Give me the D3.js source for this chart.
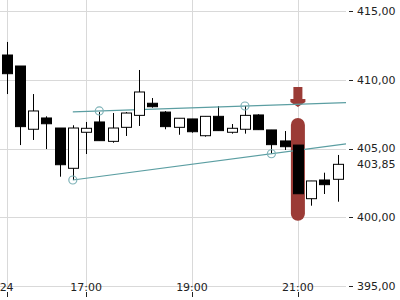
<!DOCTYPE html>
<html>
<head>
<meta charset="utf-8">
<script src="https://cdn.jsdelivr.net/npm/d3@7"></script>
<style>
  html, body { margin: 0; padding: 0; background: #fff; }
  svg { display: block; font-family: "DejaVu Sans", sans-serif; }
</style>
</head>
<body>
<svg id="chart" width="400" height="300"></svg>
<script>
// 15-minute candles, day 24
var times  = ["15:30","15:45","16:00","16:15","16:30","16:45","17:00","17:15","17:30","17:45",
              "18:00","18:15","18:30","18:45","19:00","19:15","19:30","19:45","20:00","20:15",
              "20:30","20:45","21:00","21:15","21:30","21:45"];
var opens  = [411.80,411.00,406.40,407.22,406.49,403.56,406.18,406.93,405.52,406.54,
              407.41,408.29,407.65,406.54,407.15,405.93,407.34,406.18,406.40,407.44,
              406.35,405.55,405.25,401.35,402.71,402.76];
var highs  = [412.75,411.00,408.96,407.34,406.49,406.69,406.93,407.65,407.58,407.65,
              410.71,408.67,407.72,407.20,407.15,407.34,408.09,406.78,408.09,407.49,
              406.35,406.27,407.00,402.64,403.24,404.53];
var lows   = [408.96,405.25,405.62,404.96,402.95,402.71,404.60,405.57,405.42,405.91,
              406.64,407.97,406.40,406.00,406.15,405.86,406.30,406.08,406.08,406.37,
              404.62,404.89,400.00,400.84,401.69,401.13];
var closes = [410.44,406.59,407.73,406.80,403.82,406.49,406.47,405.57,406.49,407.58,
              409.11,408.04,406.59,407.20,406.22,407.34,406.30,406.47,407.41,406.37,
              405.28,405.13,401.71,402.64,402.37,403.85];

var yTicks = [395, 400, 405, 410, 415];
var xTicks = ["15:30", "17:00", "19:00", "21:00"];
var xTickLabels = ["24", "17:00", "19:00", "21:00"];

// trend lines: two touch points each, drawn from a start time to the right edge
var upperTrend = [["17:15", 407.73], ["20:00", 408.09]];
var lowerTrend = [["16:45", 402.71], ["20:30", 404.62]];
var trendStart = "16:45";
var highlighted = "21:00";
var lastClose = 403.85;

var parse = d3.timeParse("%H:%M");
var parseS = d3.timeParse("%H:%M:%S");
var fmt = d3.format(".2f");
function price(v) { return fmt(v).replace(".", ","); }

var svg = d3.select("#chart");
var W = 346;
var x = d3.scaleTime().domain([parseS("15:22:30"), parseS("21:54:30")]).range([0, W]);
var y = d3.scaleLinear().domain([395, 415]).range([286, 11]);

var candles = times.map(function (t, i) {
  return { t: parse(t), o: opens[i], h: highs[i], l: lows[i], c: closes[i] };
});

// grid
svg.append("g").selectAll("line").data(yTicks).join("line")
  .attr("x1", 0).attr("x2", W)
  .attr("y1", function (d) { return Math.round(y(d)) + 0.5; })
  .attr("y2", function (d) { return Math.round(y(d)) + 0.5; })
  .attr("stroke", "#d9d9d9");
svg.append("g").selectAll("line").data(xTicks).join("line")
  .attr("x1", function (d) { return Math.round(x(parse(d))) + 0.5; })
  .attr("x2", function (d) { return Math.round(x(parse(d))) + 0.5; })
  .attr("y1", 0).attr("y2", 286)
  .attr("stroke", "#d9d9d9");

// right axis
var ax = svg.append("g");
ax.selectAll("line").data(yTicks).join("line")
  .attr("x1", 349).attr("x2", 353)
  .attr("y1", function (d) { return Math.round(y(d)) + 0.5; })
  .attr("y2", function (d) { return Math.round(y(d)) + 0.5; })
  .attr("stroke", "#222");
ax.selectAll("text").data(yTicks).join("text")
  .attr("x", 357).attr("y", function (d) { return y(d); })
  .attr("dy", "0.35em").attr("font-size", 11).attr("fill", "#222")
  .text(price);
svg.append("text").attr("x", 357).attr("y", y(lastClose)).attr("dy", "0.35em")
  .attr("font-size", 11).attr("fill", "#222").text(price(lastClose));

// bottom axis
var bx = svg.append("g");
bx.selectAll("line").data(xTicks).join("line")
  .attr("x1", function (d) { return Math.round(x(parse(d))) + 0.5; })
  .attr("x2", function (d) { return Math.round(x(parse(d))) + 0.5; })
  .attr("y1", 292).attr("y2", 297).attr("stroke", "#222");
bx.selectAll("text").data(xTicks).join("text")
  .attr("x", function (d) { return x(parse(d)); }).attr("y", 291)
  .attr("text-anchor", "middle").attr("font-size", 11).attr("fill", "#222")
  .text(function (d, i) { return xTickLabels[i]; });

// candle wicks
svg.append("g").selectAll("line").data(candles).join("line")
  .attr("x1", function (d) { return Math.round(x(d.t)) + 0.5; })
  .attr("x2", function (d) { return Math.round(x(d.t)) + 0.5; })
  .attr("y1", function (d) { return y(d.h); })
  .attr("y2", function (d) { return y(d.l); })
  .attr("stroke", "#000");

// highlight + arrow on the marked candle
var hc = candles[times.indexOf(highlighted)];
var hx = x(hc.t);
var hTop = y(hc.h) - 3;
svg.append("rect")
  .attr("x", hx - 7).attr("width", 14)
  .attr("y", hTop).attr("height", y(hc.l) + 3.5 - hTop)
  .attr("rx", 7).attr("fill", "#9b3b36");
var tip = hTop - 11;
svg.append("path")
  .attr("d", "M" + (hx - 4.5) + "," + (tip - 20) + "H" + (hx + 4.5) + "V" + (tip - 8) +
       "H" + (hx + 7.5) + "V" + (tip - 5) + "L" + hx + "," + tip + "L" + (hx - 7.5) + "," + (tip - 5) +
       "V" + (tip - 8) + "H" + (hx - 4.5) + "Z")
  .attr("fill", "#9b3b36");

// trend lines
function trendLine(pts) {
  var t0 = parse(pts[0][0]).getTime(), t1 = parse(pts[1][0]).getTime();
  var slope = (pts[1][1] - pts[0][1]) / (t1 - t0);
  var ts = parse(trendStart).getTime(), te = x.domain()[1].getTime();
  return [[ts, pts[0][1] + slope * (ts - t0)], [te, pts[0][1] + slope * (te - t0)]];
}
var line = d3.line().x(function (d) { return x(new Date(d[0])); }).y(function (d) { return y(d[1]); });
[upperTrend, lowerTrend].forEach(function (pts) {
  svg.append("path").attr("d", line(trendLine(pts)))
    .attr("fill", "none").attr("stroke", "#5b9ea2").attr("stroke-width", 1.2);
});

// candle bodies
svg.append("g").selectAll("rect").data(candles).join("rect")
  .attr("x", function (d) { return Math.round(x(d.t) - 5) + 0.5; })
  .attr("width", 10)
  .attr("y", function (d) { return y(Math.max(d.o, d.c)); })
  .attr("height", function (d) { return Math.max(2, Math.abs(y(d.o) - y(d.c))); })
  .attr("fill", function (d) { return d.c >= d.o ? "#fff" : "#000"; })
  .attr("stroke", "#000");

// touch points
var touches = upperTrend.concat(lowerTrend);
svg.append("g").selectAll("circle").data(touches).join("circle")
  .attr("cx", function (d) { return x(parse(d[0])); })
  .attr("cy", function (d) { return y(d[1]); })
  .attr("r", 4).attr("fill", "none")
  .attr("stroke", "#7fb3b8").attr("stroke-width", 1.2);
</script>
</body>
</html>
